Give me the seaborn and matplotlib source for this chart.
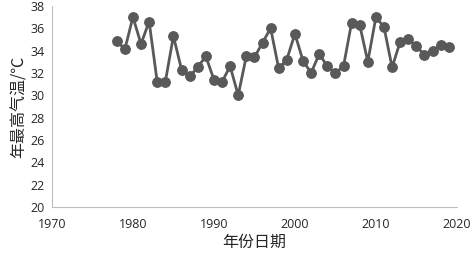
import numpy as np
import pandas as pd
import matplotlib
matplotlib.use("Agg")
import matplotlib.pyplot as plt
import seaborn as sns

years = list(range(1978, 2020))
tmax = [34.9, 34.1, 37.0, 34.6, 36.6, 31.2, 31.2, 35.3, 32.3, 31.7,
        32.5, 33.5, 31.4, 31.2, 32.6, 30.0, 33.5, 33.4, 34.7, 36.0,
        32.4, 33.2, 35.5, 33.1, 32.0, 33.7, 32.6, 32.0, 32.6, 36.5,
        36.3, 33.0, 37.0, 36.1, 32.5, 34.8, 35.0, 34.4, 33.6, 34.0,
        34.5, 34.3]
x_ticks = [1970, 1980, 1990, 2000, 2010, 2020]
y_ticks = list(range(20, 39, 2))

sns.set_theme(style="white")
plt.rcParams["font.family"] = ["Open Sans", "Noto Sans CJK SC", "DejaVu Sans"]

df = pd.DataFrame({"year": years, "tmax": tmax})

fig = plt.figure(figsize=(4.72, 2.56), dpi=100)
ax = fig.add_axes([0.110, 0.191, 0.858, 0.786])

sns.lineplot(data=df, x="year", y="tmax", ax=ax, color="#595959",
             linewidth=2.0, marker="o", markersize=7,
             markeredgecolor="#595959", markerfacecolor="#595959")

ax.set_xlim(1970, 2020)
ax.set_ylim(20, 38)
ax.set_xticks(x_ticks)
ax.set_yticks(y_ticks)
ax.tick_params(axis="both", labelsize=9, colors="#262626", length=3,
               width=0.8, direction="out")
ax.tick_params(axis="x", color="#bfbfbf", pad=5)
ax.tick_params(axis="y", color="#bfbfbf", pad=2)

for s in ["top", "right"]:
    ax.spines[s].set_visible(False)
for s in ["left", "bottom"]:
    ax.spines[s].set_color("#bfbfbf")
    ax.spines[s].set_linewidth(0.8)

ax.set_xlabel("年份日期", fontsize=11.5, color="#262626",
              family=["Noto Sans CJK SC", "DejaVu Sans"], labelpad=2)
ax.set_ylabel("年最高气温/℃", fontsize=11.5, color="#262626",
              family=["Noto Sans CJK SC", "DejaVu Sans"], labelpad=2)

fig.savefig("out.png", dpi=100)
